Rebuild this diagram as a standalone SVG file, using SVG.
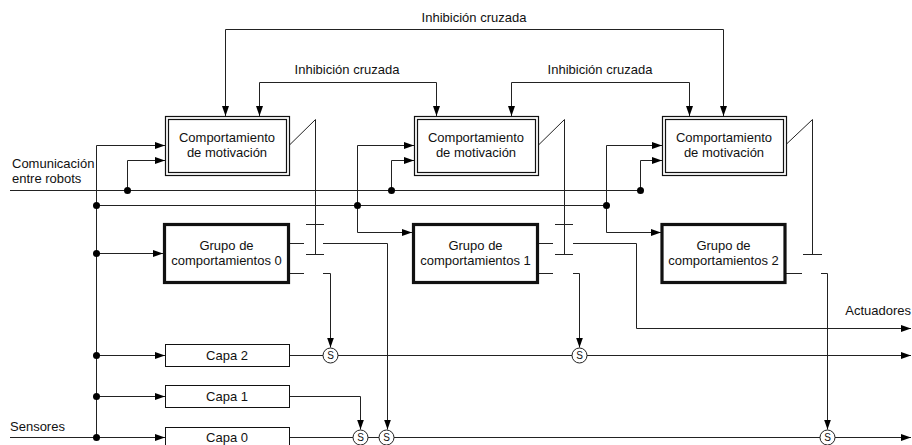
<svg xmlns="http://www.w3.org/2000/svg" width="912" height="445" viewBox="0 0 912 445">
<style>
text{font-family:"Liberation Sans",Arial,sans-serif;font-size:13px;fill:#111}
.c{text-anchor:middle}
.ln{fill:none;stroke:#222;stroke-width:1}
.ar{fill:none;stroke:#222;stroke-width:1;marker-end:url(#arr)}
.mot{fill:#fff;stroke:#111;stroke-width:1.2}
.grp{fill:#fff;stroke:#111;stroke-width:3.2}
.capa{fill:#fff;stroke:#111;stroke-width:1}
.dot{fill:#000}
.sum{fill:#fff;stroke:#222;stroke-width:1}
.s{font-size:10px;text-anchor:middle}
</style>
<defs>
<marker id="arr" viewBox="0 0 10 7" refX="10" refY="3.5" markerWidth="10" markerHeight="7" markerUnits="userSpaceOnUse" orient="auto">
<path d="M0,0 L10,3.5 L0,7 z" fill="#000"/>
</marker>
</defs>
<g id="connectors">
<path class="ln" d="M10,190.5 H640.5"/>
<path class="ln" d="M96.5,205.5 H606.5"/>
<path class="ar" d="M96.5,437.5 V145.5 H165"/>
<path class="ar" d="M127.5,190.5 V160.5 H165"/>
<path class="ar" d="M96.5,253.5 H163"/>
<path class="ar" d="M96.5,355.5 H165"/>
<path class="ar" d="M96.5,396.5 H165"/>
<path class="ar" d="M10,437.5 H165"/>
<path class="ar" d="M357.5,205.5 V145.5 H414"/>
<path class="ar" d="M357.5,205.5 V232.5 H412"/>
<path class="ar" d="M391.5,190.5 V160.5 H414"/>
<path class="ar" d="M606.5,205.5 V145.5 H662"/>
<path class="ar" d="M606.5,205.5 V232.5 H661"/>
<path class="ar" d="M640.5,190.5 V160.5 H662"/>
<path class="ar" d="M474,29.5 H225.5 V116"/>
<path class="ar" d="M474,29.5 H723.5 V116"/>
<path class="ar" d="M347,82.5 H259.5 V116"/>
<path class="ar" d="M347,82.5 H436.5 V116"/>
<path class="ar" d="M600,82.5 H511.5 V116"/>
<path class="ar" d="M600,82.5 H689.5 V116"/>
<path class="ln" d="M290,144.5 L315.5,119.5 V254.5 M306,224.5 H324 M306,254.5 H324"/>
<path class="ln" d="M539,144.5 L564.5,119.5 V254.5 M555,224.5 H573 M555,254.5 H573"/>
<path class="ln" d="M786,144.5 L812.5,119.5 V254.5 M803,254.5 H822"/>
<path class="ln" d="M290,243.5 H304 M290,273.5 H304"/>
<path class="ar" d="M323,243.5 H387.5 V429.5"/>
<path class="ar" d="M323,273.5 H330.5 V347.5"/>
<path class="ln" d="M539,243.5 H553 M539,273.5 H553"/>
<path class="ar" d="M573,243.5 H636.5 V328.5 H911"/>
<path class="ar" d="M573,273.5 H579.5 V347.5"/>
<path class="ln" d="M786,273.5 H802"/>
<path class="ar" d="M821,273.5 H827.5 V429.5"/>
<path class="ar" d="M289,355.5 H911"/>
<path class="ar" d="M289,396.5 H360.5 V429.5"/>
<path class="ar" d="M289,437.5 H911"/>
<circle class="dot" cx="96.5" cy="205.5" r="3.5"/>
<circle class="dot" cx="96.5" cy="253.5" r="3.5"/>
<circle class="dot" cx="96.5" cy="355.5" r="3.5"/>
<circle class="dot" cx="96.5" cy="396.5" r="3.5"/>
<circle class="dot" cx="96.5" cy="437.5" r="3.5"/>
<circle class="dot" cx="127.5" cy="190.5" r="3.5"/>
<circle class="dot" cx="357.5" cy="205.5" r="3.5"/>
<circle class="dot" cx="391.5" cy="190.5" r="3.5"/>
<circle class="dot" cx="606.5" cy="205.5" r="3.5"/>
<circle class="dot" cx="640.5" cy="190.5" r="3.5"/>
</g>
<g id="labels">
<text class="c" x="474" y="22">Inhibición cruzada</text>
<text class="c" x="347" y="74">Inhibición cruzada</text>
<text class="c" x="600" y="74">Inhibición cruzada</text>
<text x="12" y="168">Comunicación</text>
<text x="12" y="183">entre robots</text>
<text x="10" y="431">Sensores</text>
<text x="911" y="315" text-anchor="end">Actuadores</text>
</g>
<g id="mot0">
<rect class="mot" x="165.5" y="116.5" width="124" height="59"/>
<rect class="mot" x="168.5" y="119.5" width="118" height="53"/>
<text class="c" x="227" y="142">Comportamiento</text>
<text class="c" x="227" y="157">de motivación</text>
</g>
<g id="mot1">
<rect class="mot" x="414.5" y="116.5" width="124" height="59"/>
<rect class="mot" x="417.5" y="119.5" width="118" height="53"/>
<text class="c" x="476" y="142">Comportamiento</text>
<text class="c" x="476" y="157">de motivación</text>
</g>
<g id="mot2">
<rect class="mot" x="662.5" y="116.5" width="124" height="59"/>
<rect class="mot" x="665.5" y="119.5" width="118" height="53"/>
<text class="c" x="724" y="142">Comportamiento</text>
<text class="c" x="724" y="157">de motivación</text>
</g>
<g id="grupo0">
<rect class="grp" x="164.5" y="224.5" width="124" height="58"/>
<text class="c" x="226.5" y="250">Grupo de</text>
<text class="c" x="226.5" y="265">comportamientos 0</text>
</g>
<g id="grupo1">
<rect class="grp" x="413.5" y="224.5" width="124" height="58"/>
<text class="c" x="475.5" y="250">Grupo de</text>
<text class="c" x="475.5" y="265">comportamientos 1</text>
</g>
<g id="grupo2">
<rect class="grp" x="662" y="224.5" width="123" height="58"/>
<text class="c" x="723.5" y="250">Grupo de</text>
<text class="c" x="723.5" y="265">comportamientos 2</text>
</g>
<g id="capa2">
<rect class="capa" x="165.5" y="344.5" width="124" height="22"/>
<text class="c" x="227" y="360">Capa 2</text>
</g>
<g id="capa1">
<rect class="capa" x="165.5" y="385.5" width="124" height="22"/>
<text class="c" x="227" y="401">Capa 1</text>
</g>
<g id="capa0">
<rect class="capa" x="165.5" y="427.5" width="124" height="22"/>
<text class="c" x="227" y="442">Capa 0</text>
</g>
<g id="s1"><circle class="sum" cx="330.5" cy="355.5" r="7.5"/><text class="s" x="330.5" y="359.2">S</text></g>
<g id="s2"><circle class="sum" cx="579.5" cy="355.5" r="7.5"/><text class="s" x="579.5" y="359.2">S</text></g>
<g id="s3"><circle class="sum" cx="360.5" cy="437.5" r="7.5"/><text class="s" x="360.5" y="441.2">S</text></g>
<g id="s4"><circle class="sum" cx="386.5" cy="437.5" r="7.5"/><text class="s" x="386.5" y="441.2">S</text></g>
<g id="s5"><circle class="sum" cx="827.5" cy="437.5" r="7.5"/><text class="s" x="827.5" y="441.2">S</text></g>
</svg>
